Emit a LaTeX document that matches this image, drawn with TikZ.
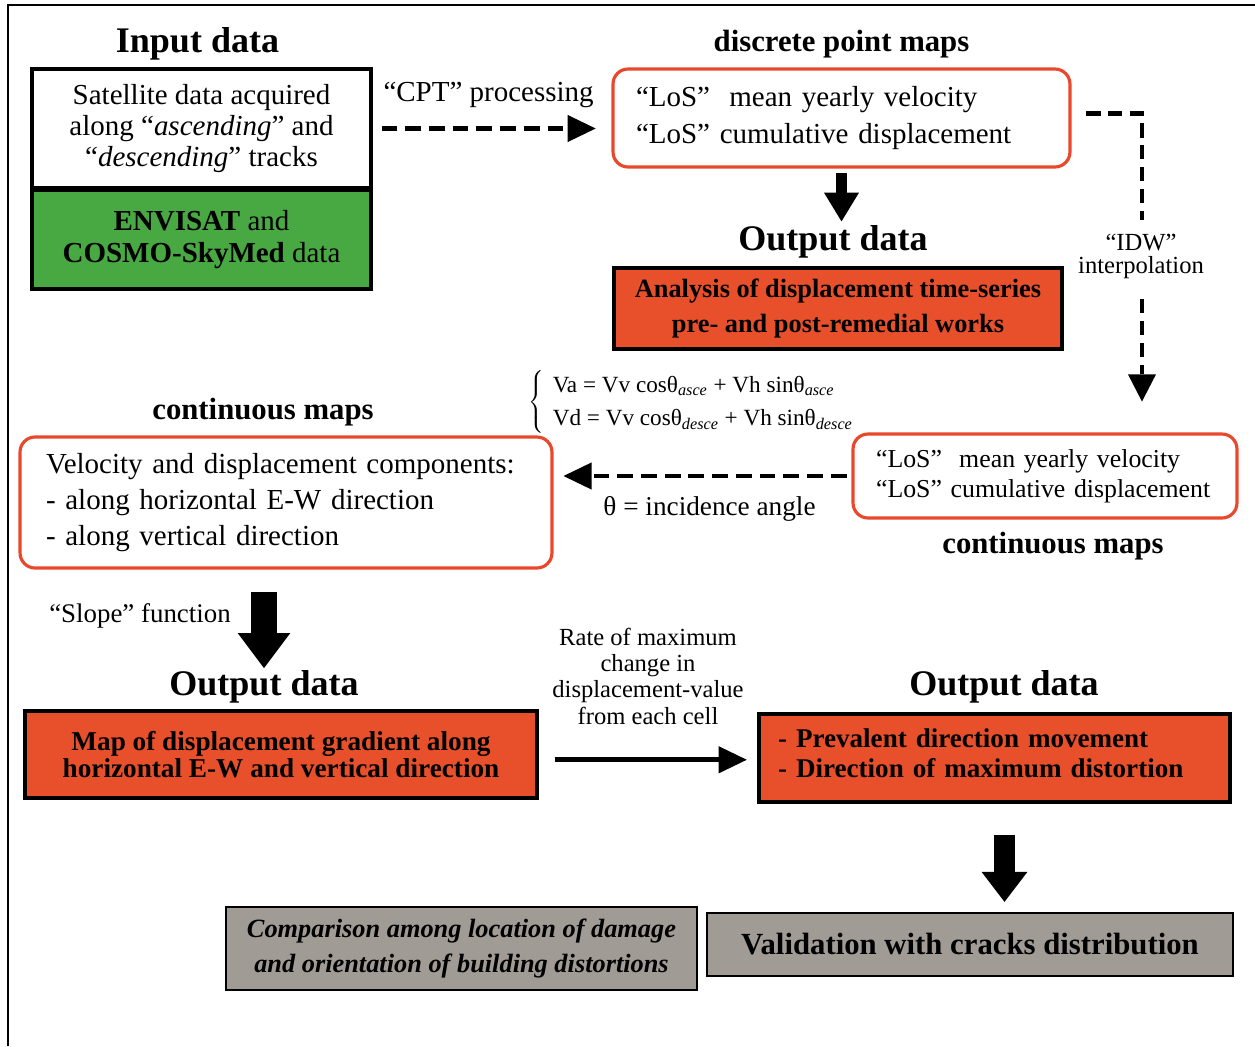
\documentclass[tikz,border=0pt]{standalone}
\usepackage{fontspec}
\setmainfont{Liberation Serif}
\usepackage{tikz}
\usetikzlibrary{arrows.meta, positioning}
\definecolor{mapred}{RGB}{232,72,43}
\definecolor{outorange}{RGB}{232,80,43}
\definecolor{satgreen}{RGB}{72,168,66}
\definecolor{valgrey}{RGB}{161,155,149}

\begin{document}
\begin{tikzpicture}[
    x=0.02cm, y=-0.02cm,
    title/.style={font=\fontsize{17.5}{20}\selectfont\bfseries, inner sep=0pt},
    bigtitle/.style={font=\fontsize{20.5}{24}\selectfont\bfseries, inner sep=0pt},
    note/.style={font=\fontsize{14}{15}\selectfont, align=center, inner sep=0pt},
    inbox/.style={rectangle, draw, line width=2pt, minimum width=6.78cm, align=center, inner sep=0pt, font=\fontsize{16.5}{17.9}\selectfont},
    mapbox/.style={rectangle, draw=mapred, line width=1.8pt, rounded corners=0.3cm, align=left, inner ysep=0pt},
    outbox/.style={rectangle, draw, line width=2pt, fill=outorange, inner ysep=0pt},
    greybox/.style={rectangle, draw, line width=1.3pt, fill=valgrey, align=center, inner ysep=0pt},
    dasharrow/.style={line width=2.8pt, dash pattern=on 9pt off 4.5pt, -{Triangle[length=16pt, width=15.5pt, line width=0pt]}},
    plainarrow/.style={line width=2.8pt, -{Triangle[length=16pt, width=15.5pt, line width=0pt]}},
    fatarrow/.style n args={3}{line width=#1, -{Triangle[width=#2, length=#3, line width=0pt]}}
]
    \useasboundingbox (0,0) rectangle (1255,1046);
    \draw[line width=1.4pt] (8,1046) -- (8,5) -- (1255,5);

    % input
    \node[inbox, minimum height=2.38cm] (inp) at (201.5,128.5) {Satellite data acquired\\along “\textit{ascending}” and\\“\textit{descending}” tracks};
    \node[inbox, fill=satgreen, minimum height=1.98cm, below=-0.9pt of inp] (sat) {\textbf{ENVISAT} and\\\textbf{COSMO-SkyMed} data};
    \node[bigtitle, above=0.14cm of inp, xshift=-0.08cm] (intitle) {Input data};

    % discrete point maps
    \node[mapbox, minimum width=9.14cm, minimum height=1.96cm, text width=8.22cm, inner xsep=0.46cm, font=\fontsize{16.5}{21}\selectfont] (dpm) at (841.5,118) {“LoS”\ \ mean yearly velocity\\“LoS” cumulative displacement};
    \node[title, above=0.18cm of dpm] (dpmtitle) {discrete point maps};
    \node[outbox, minimum width=8.96cm, minimum height=1.62cm, align=center, font=\fontsize{15}{20.4}\selectfont\bfseries] (out1) at (838,308.5) {Analysis of displacement time-series\\pre- and post-remedial works};
    \node[bigtitle, above=0.16cm of out1, xshift=-0.1cm] (out1title) {Output data};

    % continuous maps
    \node[mapbox, minimum width=10.64cm, minimum height=2.62cm, text width=9.6cm, inner xsep=0.52cm, font=\fontsize{16.5}{20.4}\selectfont] (cm1) at (286,502.5) {Velocity and displacement components:\\- along horizontal E-W direction\\- along vertical direction};
    \node[title, above=0.18cm of cm1, xshift=-0.46cm] (cm1title) {continuous maps};
    \node[mapbox, minimum width=7.68cm, minimum height=1.68cm, text width=6.76cm, inner xsep=0.46cm, font=\fontsize{14.7}{17}\selectfont] (cm2) at (1045,476) {“LoS”\ \ mean yearly velocity\\“LoS” cumulative displacement};
    \node[title, below=0.24cm of cm2, xshift=0.16cm] (cm2title) {continuous maps};
    \node[font=\fontsize{13.2}{18.7}\selectfont, anchor=west, inner sep=0pt] (eqn) at (528,402) {$\left\{\begin{tabular}{@{\hspace{5pt}}l@{}}Va = Vv cosθ\textsubscript{\textit{asce}} + Vh sinθ\textsubscript{\textit{asce}}\\Vd = Vv cosθ\textsubscript{\textit{desce}} + Vh sinθ\textsubscript{\textit{desce}}\end{tabular}\right.$};

    % gradient outputs
    \node[outbox, minimum width=10.24cm, minimum height=1.74cm, align=center, font=\fontsize{15.5}{15.8}\selectfont\bfseries] (out2) at (281,754.5) {Map of displacement gradient along\\horizontal E-W and vertical direction};
    \node[bigtitle, above=0.12cm of out2, xshift=-0.34cm] (out2title) {Output data};
    \node[outbox, minimum width=9.42cm, minimum height=1.76cm, align=left, text width=8.66cm, inner xsep=0.38cm, font=\fontsize{15.4}{17}\selectfont\bfseries] (out3) at (994.5,758) {- Prevalent direction movement\\- Direction of maximum distortion\\[-11pt]\mbox{}};
    \node[bigtitle, above=0.18cm of out3, xshift=0.19cm] (out3title) {Output data};
    \node[font=\fontsize{15.3}{17}\selectfont, anchor=base, inner sep=0pt] (slopelbl) at (140,622) {“Slope” function};

    % validation
    \node[greybox, minimum width=9.42cm, minimum height=1.66cm, font=\fontsize{15}{20.4}\selectfont\bfseries\itshape] (cmp) at (461.5,948.5) {Comparison among location of damage\\and orientation of building distortions};
    \node[greybox, minimum width=10.52cm, minimum height=1.26cm, font=\fontsize{17.5}{20}\selectfont\bfseries] (val) at (970,944.5) {Validation with cracks distribution};

    % connectors
    \draw[dasharrow, shorten <=5pt, shorten >=9pt] (inp.east) -- (inp.east -| dpm.west) node[midway, above=10.5pt, xshift=-2pt, inner sep=0pt, font=\fontsize{16.5}{18}\selectfont] (cptlbl) {“CPT” processing};
    \draw[fatarrow={6.8pt}{20pt}{16.4pt}, shorten <=2.8pt, shorten >=2pt] (dpm.south) -- (dpm.south |- out1title.north);
    \draw[line width=2.8pt, dash pattern=on 8pt off 4.5pt, -{Triangle[length=15.5pt, width=16pt, line width=0pt]}, shorten <=8.5pt, shorten >=17.6pt] ([yshift=2.8pt]dpm.east) -| ([xshift=1.94cm]cm2.north);
    \node[font=\fontsize{14}{13}\selectfont, align=center, fill=white, inner xsep=2pt, inner ysep=8pt] (idwlbl) at (1141,256) {“IDW”\\interpolation};
    \draw[dasharrow, shorten <=2.8pt, shorten >=5.7pt] (cm2.west) -- (cm2.west -| cm1.east) node[midway, below=10pt, xshift=4pt, inner sep=0pt, font=\fontsize{15.5}{17}\selectfont] (thetalbl) {θ = incidence angle};
    \draw[fatarrow={15.3pt}{30pt}{20pt}, shorten <=13pt, shorten >=1pt] (cm1.south -| out2title.north) -- (out2title.north);
    \draw[plainarrow, shorten <=9pt, shorten >=6pt] ([yshift=-3pt]out2.east) -- ([yshift=-3pt]out2.east -| out3.west) node[midway, above=18.7pt, note] (ratelbl) {Rate of maximum\\change in\\displacement-value\\from each cell};
    \draw[fatarrow={12.2pt}{26pt}{17pt}, shorten <=18pt, shorten >=5.7pt] ([xshift=0.2cm]out3.south) -- ([xshift=0.2cm]out3.south |- val.north);
\end{tikzpicture}
\end{document}
